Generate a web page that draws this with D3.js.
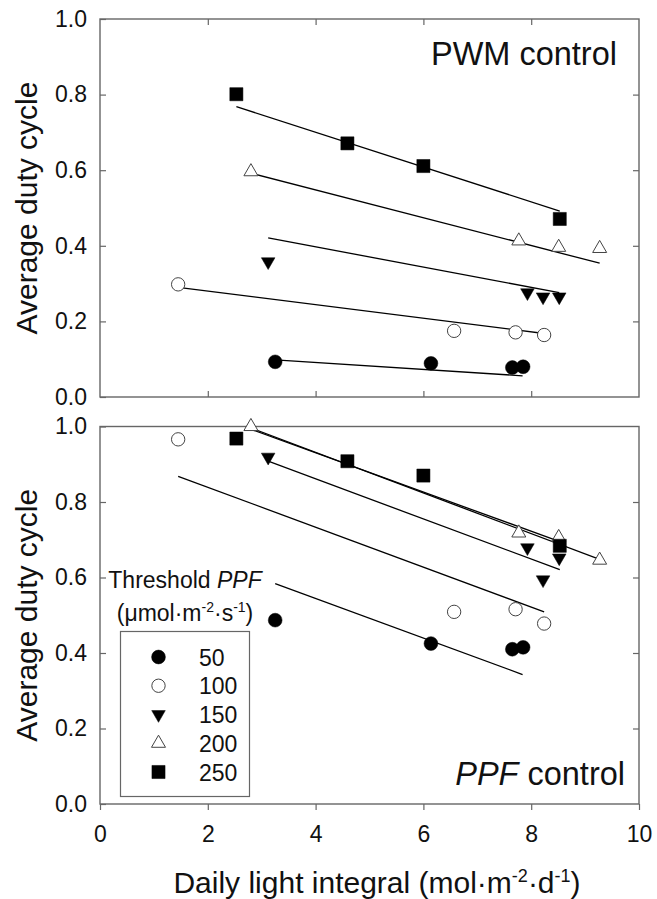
<!DOCTYPE html>
<html>
<head>
<meta charset="utf-8">
<script src="https://cdn.jsdelivr.net/npm/d3@7"></script>
<style>
  body { margin: 0; background: #fff; }
  text { font-family: "Liberation Sans", Arial, sans-serif; fill: #111; }
</style>
</head>
<body>
<div id="chart"></div>
<script>
// Threshold PPF levels (umol m-2 s-1), one series each.
var thresholds = ["50", "100", "150", "200", "250"];

// Daily light integral of each measured point, per threshold.
var dli50  = [3.25, 6.14, 7.65, 7.85];
var dli100 = [1.45, 6.57, 7.71, 8.24];
var dli150 = [3.12, 7.93, 8.22, 8.52];
var dli200 = [2.80, 7.77, 8.51, 9.27];
var dli250 = [2.53, 4.59, 6.00, 8.53];

// Average duty cycle, PWM control (top panel).
var pwm50  = [0.093, 0.089, 0.078, 0.080];
var pwm100 = [0.298, 0.175, 0.171, 0.164];
var pwm150 = [0.358, 0.276, 0.265, 0.265];
var pwm200 = [0.596, 0.413, 0.396, 0.393];
var pwm250 = [0.801, 0.671, 0.611, 0.471];

// Average duty cycle, PPF control (bottom panel).
var ppf50  = [0.487, 0.425, 0.410, 0.415];
var ppf100 = [0.966, 0.509, 0.516, 0.478];
var ppf150 = [0.919, 0.679, 0.594, 0.652];
var ppf200 = [1.000, 0.718, 0.706, 0.646];
var ppf250 = [0.968, 0.908, 0.870, 0.684];

// Regression lines [x1, y1, x2, y2].
var pwmFit50  = [3.25, 0.098, 7.84, 0.056];
var pwmFit100 = [1.45, 0.290, 8.24, 0.168];
var pwmFit150 = [3.12, 0.421, 8.52, 0.276];
var pwmFit200 = [2.80, 0.592, 9.27, 0.354];
var pwmFit250 = [2.53, 0.768, 8.53, 0.492];

var ppfFit50  = [3.25, 0.584, 7.84, 0.343];
var ppfFit100 = [1.45, 0.868, 8.24, 0.509];
var ppfFit150 = [3.12, 0.908, 8.53, 0.621];
var ppfFit200 = [2.82, 0.995, 9.27, 0.648];
var ppfFit250 = [2.85, 0.990, 8.53, 0.695];

var xTicks = [0, 2, 4, 6, 8, 10];
var yTicks = [0, 0.2, 0.4, 0.6, 0.8, 1.0];

var width = 657, height = 899;
var frameColor = "#666";

var svg = d3.select("#chart").append("svg")
    .attr("width", width)
    .attr("height", height);

var x = d3.scaleLinear().domain([0, 10]).range([100, 639]);
var yTop = d3.scaleLinear().domain([0, 1]).range([397, 19]);
var yBot = d3.scaleLinear().domain([0, 1]).range([804, 426.5]);

// marker style for each threshold: symbol type, filled or open, rotation
var markers = {
  "50":  {type: d3.symbolCircle, size: 150, filled: true, rot: 0},
  "100": {type: d3.symbolCircle, size: 140, filled: false, rot: 0},
  "150": {type: d3.symbolTriangle, size: 80, filled: true, rot: 180},
  "200": {type: d3.symbolTriangle, size: 85, filled: false, rot: 0},
  "250": {type: d3.symbolSquare, size: 172, filled: true, rot: 0}
};

function drawMarker(g, key, cx, cy) {
  var m = markers[key];
  g.append("path")
    .attr("d", d3.symbol().type(m.type).size(m.size)())
    .attr("transform", "translate(" + cx + "," + cy + ") rotate(" + m.rot + ")")
    .attr("fill", m.filled ? "#000" : "#fff")
    .attr("stroke", m.filled ? "#000" : "#444")
    .attr("stroke-width", m.filled ? 0.5 : 1);
}

function drawPanel(y, series, fits, showX) {
  var g = svg.append("g");

  // frame
  g.append("rect")
    .attr("x", x(0)).attr("y", y(1))
    .attr("width", x(10) - x(0)).attr("height", y(0) - y(1))
    .attr("fill", "none").attr("stroke", frameColor).attr("stroke-width", 1.4);

  var left = g.append("g")
    .attr("transform", "translate(" + x(0) + ",0)")
    .call(d3.axisLeft(y).tickValues(yTicks).tickSizeInner(-6).tickSizeOuter(0)
      .tickPadding(13).tickFormat(d3.format(".1f")));
  left.selectAll("text").attr("font-size", 23).attr("font-family", null);

  g.append("g")
    .attr("transform", "translate(" + x(10) + ",0)")
    .call(d3.axisRight(y).tickValues([0.2, 0.4, 0.6, 0.8]).tickSizeInner(-6).tickSizeOuter(0)
      .tickFormat(""));

  if (showX) {
    var bottom = g.append("g")
      .attr("transform", "translate(0," + y(0) + ")")
      .call(d3.axisBottom(x).tickValues(xTicks).tickSizeInner(6).tickSizeOuter(0)
        .tickPadding(16).tickFormat(d3.format("d")));
    bottom.selectAll("text").attr("font-size", 23).attr("font-family", null);
  } else {
    // inward ticks only, top and bottom of the upper panel
    g.append("g")
      .attr("transform", "translate(0," + y(0) + ")")
      .call(d3.axisBottom(x).tickValues([2, 4, 6, 8]).tickSizeInner(-6).tickSizeOuter(0)
        .tickFormat(""));
    g.append("g")
      .attr("transform", "translate(0," + y(1) + ")")
      .call(d3.axisTop(x).tickValues([2, 4, 6, 8]).tickSizeInner(-6).tickSizeOuter(0)
        .tickFormat(""));
  }

  g.selectAll(".domain").remove();
  g.selectAll(".tick line").attr("stroke", frameColor).attr("stroke-width", 1.2);

  // regression lines
  fits.forEach(function(f) {
    g.append("line")
      .attr("x1", x(f[0])).attr("y1", y(f[1]))
      .attr("x2", x(f[2])).attr("y2", y(f[3]))
      .attr("stroke", "#000").attr("stroke-width", 1.3);
  });

  // points
  series.forEach(function(s) {
    s.xs.forEach(function(xv, i) {
      drawMarker(g, s.key, x(xv), y(s.ys[i]));
    });
  });
  return g;
}

var dliAll = [dli50, dli100, dli150, dli200, dli250];
var pwmAll = [pwm50, pwm100, pwm150, pwm200, pwm250];
var ppfAll = [ppf50, ppf100, ppf150, ppf200, ppf250];

var topSeries = thresholds.map(function(k, i) { return {key: k, xs: dliAll[i], ys: pwmAll[i]}; });
var botSeries = thresholds.map(function(k, i) { return {key: k, xs: dliAll[i], ys: ppfAll[i]}; });

drawPanel(yTop, topSeries, [pwmFit50, pwmFit100, pwmFit150, pwmFit200, pwmFit250], false);
drawPanel(yBot, botSeries, [ppfFit50, ppfFit100, ppfFit150, ppfFit200, ppfFit250], true);

// panel labels
svg.append("text")
  .attr("x", 617).attr("y", 65)
  .attr("text-anchor", "end").attr("font-size", 32.5)
  .text("PWM control");

var ppfLabel = svg.append("text")
  .attr("x", 625).attr("y", 785)
  .attr("text-anchor", "end").attr("font-size", 32.5);
ppfLabel.append("tspan").attr("font-style", "italic").text("PPF");
ppfLabel.append("tspan").text(" control");

// y axis titles
[yTop, yBot].forEach(function(y) {
  svg.append("text")
    .attr("transform", "translate(37," + ((y(0) + y(1)) / 2) + ") rotate(-90)")
    .attr("text-anchor", "middle").attr("font-size", 30)
    .text("Average duty cycle");
});

// x axis title
var xTitle = svg.append("text")
  .attr("x", 377).attr("y", 893)
  .attr("text-anchor", "middle").attr("font-size", 30);
xTitle.append("tspan").text("Daily light integral (mol\u00b7m");
xTitle.append("tspan").attr("dy", -11).attr("font-size", 18).text("-2");
xTitle.append("tspan").attr("dy", 11).text("\u00b7d");
xTitle.append("tspan").attr("dy", -11).attr("font-size", 18).text("-1");
xTitle.append("tspan").attr("dy", 11).text(")");

// legend title
var lt1 = svg.append("text")
  .attr("x", 185).attr("y", 588)
  .attr("text-anchor", "middle").attr("font-size", 23);
lt1.append("tspan").text("Threshold ");
lt1.append("tspan").attr("font-style", "italic").text("PPF");

var lt2 = svg.append("text")
  .attr("x", 185).attr("y", 621)
  .attr("text-anchor", "middle").attr("font-size", 23);
lt2.append("tspan").text("(\u03bcmol\u00b7m");
lt2.append("tspan").attr("dy", -9).attr("font-size", 14).text("-2");
lt2.append("tspan").attr("dy", 9).text("\u00b7s");
lt2.append("tspan").attr("dy", -9).attr("font-size", 14).text("-1");
lt2.append("tspan").attr("dy", 9).text(")");

// legend box
var legend = svg.append("g");
legend.append("rect")
  .attr("x", 120.5).attr("y", 631.5)
  .attr("width", 129).attr("height", 165)
  .attr("fill", "#fff").attr("stroke", frameColor).attr("stroke-width", 1.2);

var legendY = d3.scalePoint().domain(thresholds).range([657, 772]);
thresholds.forEach(function(k) {
  drawMarker(legend, k, 158.5, legendY(k));
  legend.append("text")
    .attr("x", 199).attr("y", legendY(k) + 8.5)
    .attr("font-size", 23)
    .text(k);
});
</script>
</body>
</html>
